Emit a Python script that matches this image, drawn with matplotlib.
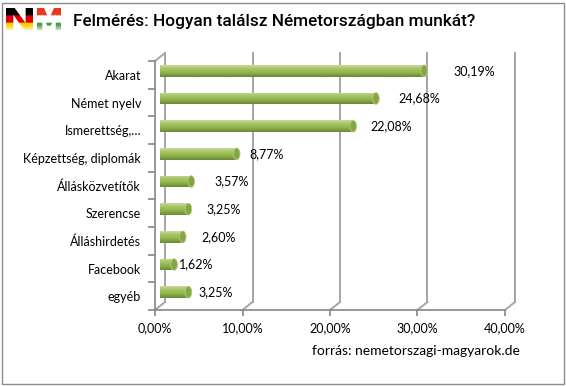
import numpy as np
import matplotlib.pyplot as plt
from matplotlib import transforms
from matplotlib.patches import Rectangle, Ellipse, PathPatch
from matplotlib.textpath import TextPath
from matplotlib.font_manager import FontProperties
from matplotlib.colors import to_rgb

# data
categories = ['Akarat', 'Német nyelv', 'Ismerettség,…', 'Képzettség, diplomák',
              'Állásközvetítők', 'Szerencse', 'Álláshirdetés', 'Facebook', 'egyéb']
shares = [30.19, 24.68, 22.08, 8.77, 3.57, 3.25, 2.60, 1.62, 3.25]
x_ticks = [0, 10, 20, 30, 40]
title = 'Felmérés: Hogyan találsz Németországban munkát?'
source = 'forrás: nemetorszagi-magyarok.de'

# Excel puts the value labels a bit unevenly, nudge in px
label_dx = [27, 20, 14, 10, 20, 15, 16, 2, 7]

W, H = 566, 386
fig = plt.figure(figsize=(W / 100, H / 100), dpi=100)
fig.patch.set_facecolor('white')
font = 'Lato'


def px(x0, y0, x1, y1):
    # pixel box (top-left origin) -> figure rect
    return [x0 / W, 1 - y1 / H, (x1 - x0) / W, (y1 - y0) / H]


def fit_text(t, width_px):
    r = fig.canvas.get_renderer()
    w = t.get_window_extent(r).width
    t.set_fontsize(t.get_fontsize() * width_px / w)


ax = fig.add_axes(px(155, 61, 505, 310))
n = len(categories)
pos = np.arange(n)
ax.set_facecolor('none')

# depth of the fake 3d box
depth = (10, 8)


def shift(dx, dy):
    return ax.transData + transforms.ScaledTranslation(dx / 100, dy / 100, fig.dpi_scale_trans)


back = shift(*depth)
mid = shift(depth[0] / 2, depth[1] / 2)
grid_col = '#A6A6A6'
axis_col = '#868686'

ax.set_xlim(0, 40)
ax.set_ylim(n - 0.5, -0.5)

# back wall grid + floor/left-wall diagonals
for t in x_ticks:
    ax.plot([t, t], [-0.5, n - 0.5], transform=back, color=grid_col, lw=1.4, clip_on=False)
    x0, y0 = ax.transData.transform((t, n - 0.5))
    ax.plot([x0, x0 + depth[0]], [y0, y0 + depth[1]], transform=transforms.IdentityTransform(),
            color=grid_col, lw=1.4, clip_on=False)
x0, y0 = ax.transData.transform((0, -0.5))
ax.plot([x0, x0 + depth[0]], [y0, y0 + depth[1]], transform=transforms.IdentityTransform(),
        color=grid_col, lw=1.4, clip_on=False)

# cylinder bars: bar patch used as clip for a vertical shading image
h = 0.42
shade = ['#C3D797', '#B5CF7C', '#A9C767', '#A1C15C', '#9ABB55', '#92B34E', '#87A846',
         '#7A9B3E', '#6C8C35']
grad = np.array([to_rgb(c) for c in shade])[:, None, :]
bars = ax.barh(pos, shares, height=h, color='#9ABB55', edgecolor='none', zorder=3)
for i, b in enumerate(bars):
    b.set_transform(mid)
    v = shares[i]
    im = ax.imshow(grad, extent=(0, v, pos[i] + h / 2, pos[i] - h / 2), origin='upper',
                   aspect='auto', interpolation='bilinear', zorder=3.5)
    im.set_transform(mid)
    im.set_clip_path(b)
    cap = Ellipse((v, pos[i]), width=0.75, height=h, facecolor='#86A646',
                  edgecolor='#B4CC80', lw=0.6, transform=mid, zorder=4)
    ax.add_patch(cap)
    lab = f'{v:.2f}'.replace('.', ',') + '%'
    ax.annotate(lab, xy=(v, pos[i]), xycoords=mid, xytext=(label_dx[i] * 0.72 + 2, 0),
                textcoords='offset points', va='center', ha='left',
                fontsize=9, family=font, color='#000000', zorder=5)

ax.set_xlim(0, 40)
ax.set_ylim(n - 0.5, -0.5)
ax.set_aspect('auto')

# front axes
for s in ['top', 'right']:
    ax.spines[s].set_visible(False)
for s in ['left', 'bottom']:
    ax.spines[s].set_color(axis_col)
    ax.spines[s].set_linewidth(1.2)
ax.set_xticks(x_ticks)
ax.set_xticklabels([f'{t:.2f}'.replace('.', ',') + '%' for t in x_ticks],
                   fontsize=9, family=font)
ax.set_yticks(pos)
ax.set_yticklabels(categories, fontsize=9, family=font)
ax.set_yticks(np.arange(n + 1) - 0.5, minor=True)
ax.tick_params(axis='y', which='major', length=0, pad=10)
ax.tick_params(axis='y', which='minor', length=5, color=axis_col, width=1.2, direction='out')
ax.tick_params(axis='x', length=4, color=axis_col, width=1.2, pad=5)

# title and source
tt = fig.text(73 / W, 1 - 26 / H, title, fontsize=13, family='Roboto', weight='medium',
              va='baseline', ha='left', color='#000000')
st = fig.text(312 / W, 1 - 351 / H, source, fontsize=10, family=font, va='center',
              ha='left', color='#000000')
fit_text(tt, 401)
fit_text(st, 207)

# NM logo: letters filled with flag colours
lax = fig.add_axes(px(6, 7, 62, 31))
lax.set_xlim(0, 56)
lax.set_ylim(0, 24)
lax.axis('off')


def letter(ch, box, stripes):
    p = TextPath((0, 0), ch, size=1, prop=FontProperties(family='DejaVu Sans', weight='bold'))
    e = p.get_extents()
    x0, y0, x1, y1 = box
    tr = transforms.Affine2D().translate(-e.x0, -e.y0).scale((x1 - x0) / e.width,
                                                             (y1 - y0) / e.height).translate(x0, y0)
    patch = PathPatch(tr.transform_path(p), fc='none', ec='none')
    lax.add_patch(patch)
    rows = 60
    img = np.ones((rows, 2, 3))
    for r in range(rows):
        f = r / rows
        idx = min(int(f * 3), 2)
        c = np.array(to_rgb(stripes[idx]))
        if f > 0.75:
            fade = (f - 0.75) / 0.25 * 0.75
            c = c + (1 - c) * fade
        img[r, :, :] = c
    im = lax.imshow(img, extent=(x0, x1, y0, y1), aspect='auto', interpolation='bilinear')
    im.set_clip_path(patch)


letter('N', (0, 1, 27, 23), ['#000000', '#DD0000', '#FFCE00'])
letter('M', (31, 1, 55, 23), ['#E8391E', '#FFFFFF', '#43A047'])
lax.set_xlim(0, 56)
lax.set_ylim(0, 24)

# chart border
fig.add_artist(Rectangle((1.5 / W, 2.5 / H), (W - 4) / W, (H - 5) / H, transform=fig.transFigure,
                         fill=False, ec='#8C8C8C', lw=1))

fig.savefig('out.png', dpi=100)
